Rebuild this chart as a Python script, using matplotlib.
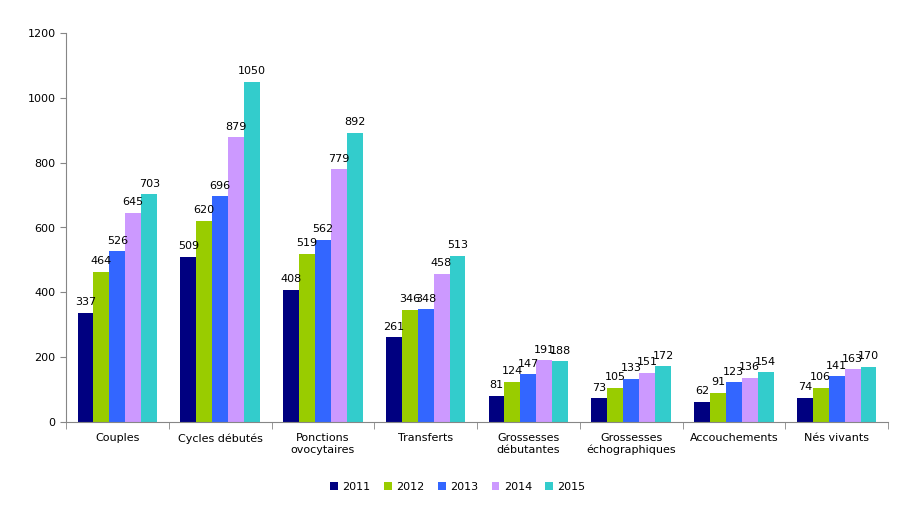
import matplotlib
matplotlib.use("Agg")
import matplotlib.pyplot as plt
import numpy as np

categories = ["Couples", "Cycles débutés", "Ponctions\novocytaires", "Transferts",
              "Grossesses\ndébutantes", "Grossesses\néchographiques", "Accouchements", "Nés vivants"]
years = ["2011", "2012", "2013", "2014", "2015"]
v2011 = [337, 509, 408, 261, 81, 73, 62, 74]
v2012 = [464, 620, 519, 346, 124, 105, 91, 106]
v2013 = [526, 696, 562, 348, 147, 133, 123, 141]
v2014 = [645, 879, 779, 458, 191, 151, 136, 163]
v2015 = [703, 1050, 892, 513, 188, 172, 154, 170]
series = [v2011, v2012, v2013, v2014, v2015]
colors = ["#000080", "#99CC00", "#3366FF", "#CC99FF", "#33CCCC"]

plt.rcParams['font.family'] = ['DejaVu Sans']
fig = plt.figure(figsize=(9.07, 5.18), dpi=100)
W, H = 907, 518
ax = fig.add_axes([66 / W, (H - 422) / H, (888 - 66) / W, (422 - 33) / H])

n = len(categories)
x = np.arange(n)
bw = 0.155
for i, (vals, c, yr) in enumerate(zip(series, colors, years)):
    pos = x + (i - 2) * bw
    ax.bar(pos, vals, width=bw, color=c, label=yr)
    for px, v in zip(pos, vals):
        ax.annotate(str(v), (px, v), xytext=(0, 4), textcoords="offset points",
                    ha="center", va="bottom", fontsize=8)

ax.set_xlim(-0.5, n - 0.5)
ax.set_ylim(0, 1200)
ax.set_yticks(range(0, 1201, 200))
ax.tick_params(axis='y', labelsize=8, length=4, color="#868686")
ax.set_xticks(x)
ax.set_xticklabels(categories, fontsize=8)
ax.tick_params(axis='x', length=0, pad=8)
ax.set_xticks(np.arange(-0.5, n, 1), minor=True)
ax.tick_params(axis='x', which='minor', length=5, color="#868686")
for s in ["top", "right"]:
    ax.spines[s].set_visible(False)
for s in ["left", "bottom"]:
    ax.spines[s].set_color("#868686")

fig.legend(loc="center", bbox_to_anchor=(458 / W, 1 - 487 / H), ncol=5, frameon=False,
           fontsize=8, handlelength=0.7, handleheight=0.7, handletextpad=0.4, columnspacing=1.2)

fig.savefig("out.png", dpi=100)
